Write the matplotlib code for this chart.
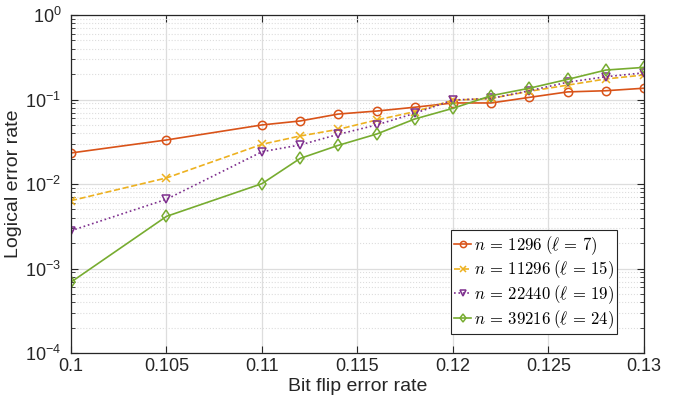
import matplotlib
matplotlib.use("Agg")
import matplotlib.pyplot as plt
from matplotlib.ticker import FixedLocator, LogLocator, FuncFormatter, NullFormatter
import math

plt.rcParams['font.family'] = ['Liberation Sans', 'DejaVu Sans']
plt.rcParams['mathtext.fontset'] = 'cm'

p = [0.1, 0.105, 0.11, 0.112, 0.114, 0.116, 0.118, 0.12, 0.122, 0.124, 0.126, 0.128, 0.13]
err_1296 = [0.0233, 0.0332, 0.050, 0.0557, 0.0673, 0.073, 0.081, 0.091, 0.091, 0.106, 0.123, 0.127, 0.136]
err_11296 = [0.00635, 0.0118, 0.0295, 0.037, 0.0444, 0.0572, 0.0718, 0.098, 0.103, 0.125, 0.148, 0.175, 0.195]
err_22440 = [0.0028, 0.0066, 0.0241, 0.029, 0.0387, 0.050, 0.0687, 0.0986, 0.103, 0.127, 0.16, 0.186, 0.207]
err_39216 = [0.00069, 0.00414, 0.0101, 0.0201, 0.0287, 0.039, 0.0588, 0.0787, 0.111, 0.136, 0.173, 0.223, 0.240]

labels = [r'$n\,=\,1296\;(\ell\,=\,7)$', r'$n\,=\,11296\;(\ell\,=\,15)$',
          r'$n\,=\,22440\;(\ell\,=\,19)$', r'$n\,=\,39216\;(\ell\,=\,24)$']
xticks = [0.1, 0.105, 0.11, 0.115, 0.12, 0.125, 0.13]
xticklabels = ['0.1', '0.105', '0.11', '0.115', '0.12', '0.125', '0.13']

fig = plt.figure(figsize=(6.76, 4.01), dpi=100)
ax = fig.add_axes([71/676, 48/401, 573/676, 338/401])

styles = [
    dict(color='#D95319', linestyle='-', marker='o'),
    dict(color='#EDB120', linestyle='--', marker='x'),
    dict(color='#7E2F8E', linestyle=':', marker='v'),
    dict(color='#77AC30', linestyle='-', marker='d'),
]
for ys, lab, st in zip([err_1296, err_11296, err_22440, err_39216], labels, styles):
    ax.plot(p, ys, label=lab, linewidth=1.2, markersize=6,
            markerfacecolor='none', markeredgewidth=1.1, **st)

ax.set_yscale('log')
ax.set_xlim(0.1, 0.13)
ax.set_ylim(1e-4, 1)
ax.xaxis.set_major_locator(FixedLocator(xticks))
ax.set_xticklabels(xticklabels)
ax.yaxis.set_major_locator(LogLocator(base=10, numticks=10))
ax.yaxis.set_minor_locator(LogLocator(base=10, subs=range(2, 10), numticks=20))
ax.yaxis.set_minor_formatter(NullFormatter())

def fmt(v, pos):
    e = int(round(math.log10(v)))
    return r'$\mathregular{10^{%d}}$' % e
ax.yaxis.set_major_formatter(FuncFormatter(fmt))

ax.grid(True, which='major', color='#dddddd', linewidth=0.9, linestyle='-')
ax.grid(True, which='minor', axis='y', color='#dddddd', linewidth=0.8, linestyle=':')
ax.set_axisbelow(True)

ax.tick_params(which='both', direction='in', top=True, right=True, colors='#262626',
               labelsize=13)
ax.tick_params(which='major', length=5, width=0.8)
ax.tick_params(which='minor', length=3, width=0.6)
ax.tick_params(axis='y', pad=7)
for s in ax.spines.values():
    s.set_color('#262626')
    s.set_linewidth(0.9)

ax.set_xlabel('Bit flip error rate', fontsize=14, color='#262626', labelpad=2)
ax.set_ylabel('Logical error rate', fontsize=14, color='#262626', labelpad=2)

leg = ax.legend(loc='lower right', fontsize=12, handlelength=1.0, handletextpad=0.15,
                borderpad=0.2, labelspacing=0.12, fancybox=False, framealpha=1,
                edgecolor='#262626', markerscale=0.75, borderaxespad=0.0)
leg.set_bbox_to_anchor(((617 - 71) / 573, (353 - 334) / 338), transform=ax.transAxes)
leg.get_frame().set_linewidth(0.8)

fig.savefig('out.png', dpi=100)
